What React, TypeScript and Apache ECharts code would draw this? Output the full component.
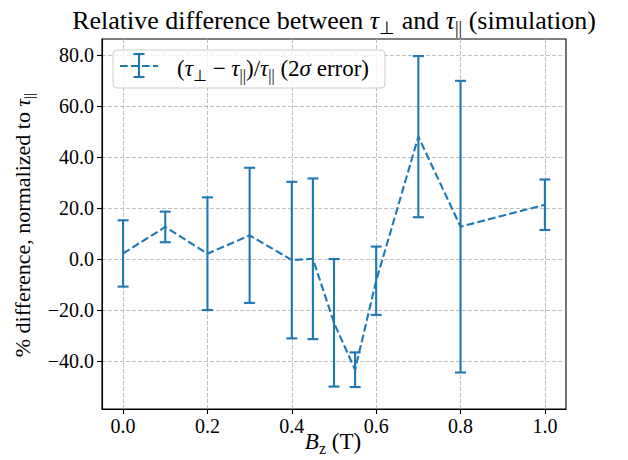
import React, { useEffect, useRef } from "react";
import * as echarts from "echarts";

const bz = [0, 0.1, 0.2, 0.3, 0.4, 0.45, 0.5, 0.55, 0.6, 0.7, 0.8, 1.0];
const diff = [2.2, 12.6, 2.1, 9.3, -0.4, 0.1, -25.0, -43.4, -8.5, 48.0, 12.7, 21.3];
const err = [13.0, 6.0, 22.1, 26.5, 30.7, 31.5, 25.0, 6.8, 13.4, 31.6, 57.2, 9.9];
const xTicks = [0, 0.2, 0.4, 0.6, 0.8, 1.0];
const yTicks = [-40, -20, 0, 20, 40, 60, 80];

const BLUE = "#1f77b4";
const FONT = "Liberation Serif";

const mathRich = (size: number) => ({
  n: { fontFamily: FONT, fontSize: size, color: "#000" },
  i: { fontFamily: FONT, fontSize: size, fontStyle: "italic", color: "#000" },
  s: { fontFamily: FONT, fontSize: Math.round(size * 0.7), color: "#000", padding: [Math.round(size * 0.6), 0, 0, 0] },
});

export default function App() {
  const ref = useRef<HTMLDivElement>(null);
  useEffect(() => {
    if (!ref.current) return;
    const chart = echarts.init(ref.current, null, { renderer: "svg" });
    const lineData = bz.map((x, k) => [x, diff[k]]);
    const errData = bz.map((x, k) => [x, diff[k], err[k]]);
    const fmtMinus = (v: number) => (v < 0 ? "\u2212" + Math.abs(v).toFixed(1) : v.toFixed(1));
    chart.setOption({
      animation: false,
      textStyle: { fontFamily: FONT },
      grid: { left: 102, right: 62, top: 39, bottom: 51, show: true, borderColor: "#000", borderWidth: 1.1, backgroundColor: "transparent" },
      xAxis: {
        type: "value",
        min: -0.05,
        max: 1.05,
        axisLine: { show: true, onZero: false, lineStyle: { color: "#000", width: 1.1 } },
        axisTick: { show: true, length: 5, lineStyle: { color: "#000", width: 1.1 }, customValues: xTicks },
        axisLabel: { customValues: xTicks, formatter: (v: number) => v.toFixed(1), fontFamily: FONT, fontSize: 20, color: "#000", margin: 7 },
        splitLine: { show: true, lineStyle: { color: "#b0b0b0", width: 0.8, type: [4, 2] } },
      },
      yAxis: {
        type: "value",
        min: -58.8,
        max: 86.3,
        axisLine: { show: true, onZero: false, lineStyle: { color: "#000", width: 1.1 } },
        axisTick: { show: true, length: 5, lineStyle: { color: "#000", width: 1.1 }, customValues: yTicks },
        axisLabel: { customValues: yTicks, formatter: fmtMinus, fontFamily: FONT, fontSize: 20, color: "#000", margin: 8 },
        splitLine: { show: true, lineStyle: { color: "#b0b0b0", width: 0.8, type: [4, 2] } },
      },
      series: [
        {
          type: "line",
          data: lineData,
          symbol: "none",
          lineStyle: { color: BLUE, width: 2.1, type: [7.7, 3.3] },
          z: 3,
        },
        {
          type: "custom",
          data: errData,
          encode: { x: 0, y: 1 },
          z: 4,
          renderItem: (_params: any, api: any) => {
            const x = api.value(0);
            const y = api.value(1);
            const e = api.value(2);
            const top = api.coord([x, y + e]);
            const bot = api.coord([x, y - e]);
            const cap = 5.5;
            const st = { stroke: BLUE, lineWidth: 2.1 };
            return {
              type: "group",
              children: [
                { type: "line", shape: { x1: top[0], y1: top[1], x2: bot[0], y2: bot[1] }, style: st },
                { type: "line", shape: { x1: top[0] - cap, y1: top[1], x2: top[0] + cap, y2: top[1] }, style: st },
                { type: "line", shape: { x1: bot[0] - cap, y1: bot[1], x2: bot[0] + cap, y2: bot[1] }, style: st },
              ],
            };
          },
        },
      ],
      graphic: [
        {
          type: "text",
          x: 334,
          y: 20,
          style: {
            text: "{n|Relative difference between }{i|τ}{s|⊥}{n| and }{i|τ}{s|||}{n| (simulation)}",
            rich: mathRich(26),
            fontFamily: FONT,
            fontSize: 26,
            textAlign: "center",
            textVerticalAlign: "middle",
          },
        },
        {
          type: "text",
          x: 333,
          y: 441,
          style: {
            text: "{i|B}{s|z}{n| (T)}",
            rich: mathRich(23),
            fontFamily: FONT,
            fontSize: 23,
            textAlign: "center",
            textVerticalAlign: "middle",
          },
        },
        {
          type: "text",
          x: 22,
          y: 225,
          rotation: Math.PI / 2,
          style: {
            text: "{n|% difference, normalized to }{i|τ}{s|||}",
            rich: mathRich(22),
            fontFamily: FONT,
            fontSize: 22,
            textAlign: "center",
            textVerticalAlign: "middle",
          },
        },
        {
          type: "rect",
          shape: { x: 113, y: 50, width: 272, height: 38, r: 4 },
          style: { fill: "rgba(255,255,255,0.8)", stroke: "#cccccc", lineWidth: 1 },
          z: 10,
        },
        {
          type: "line",
          shape: { x1: 120, y1: 66, x2: 158, y2: 66 },
          style: { stroke: BLUE, lineWidth: 2.1, lineDash: [7.7, 3.3] },
          z: 11,
        },
        {
          type: "line",
          shape: { x1: 139, y1: 54, x2: 139, y2: 77 },
          style: { stroke: BLUE, lineWidth: 2.1 },
          z: 11,
        },
        {
          type: "line",
          shape: { x1: 133.5, y1: 54, x2: 144.5, y2: 54 },
          style: { stroke: BLUE, lineWidth: 2.1 },
          z: 11,
        },
        {
          type: "line",
          shape: { x1: 133.5, y1: 77, x2: 144.5, y2: 77 },
          style: { stroke: BLUE, lineWidth: 2.1 },
          z: 11,
        },
        {
          type: "text",
          x: 177,
          y: 68,
          z: 11,
          style: {
            text: "{n|(}{i|τ}{s|⊥}{n| − }{i|τ}{s|||}{n|)/}{i|τ}{s|||}{n| (2}{i|σ}{n| error)}",
            rich: mathRich(23),
            fontFamily: FONT,
            fontSize: 23,
            textAlign: "left",
            textVerticalAlign: "middle",
          },
        },
      ],
    });
    return () => chart.dispose();
  }, []);
  return <div ref={ref} style={{ position: "absolute", left: 0, top: 0, width: 628, height: 460 }} />;
}
